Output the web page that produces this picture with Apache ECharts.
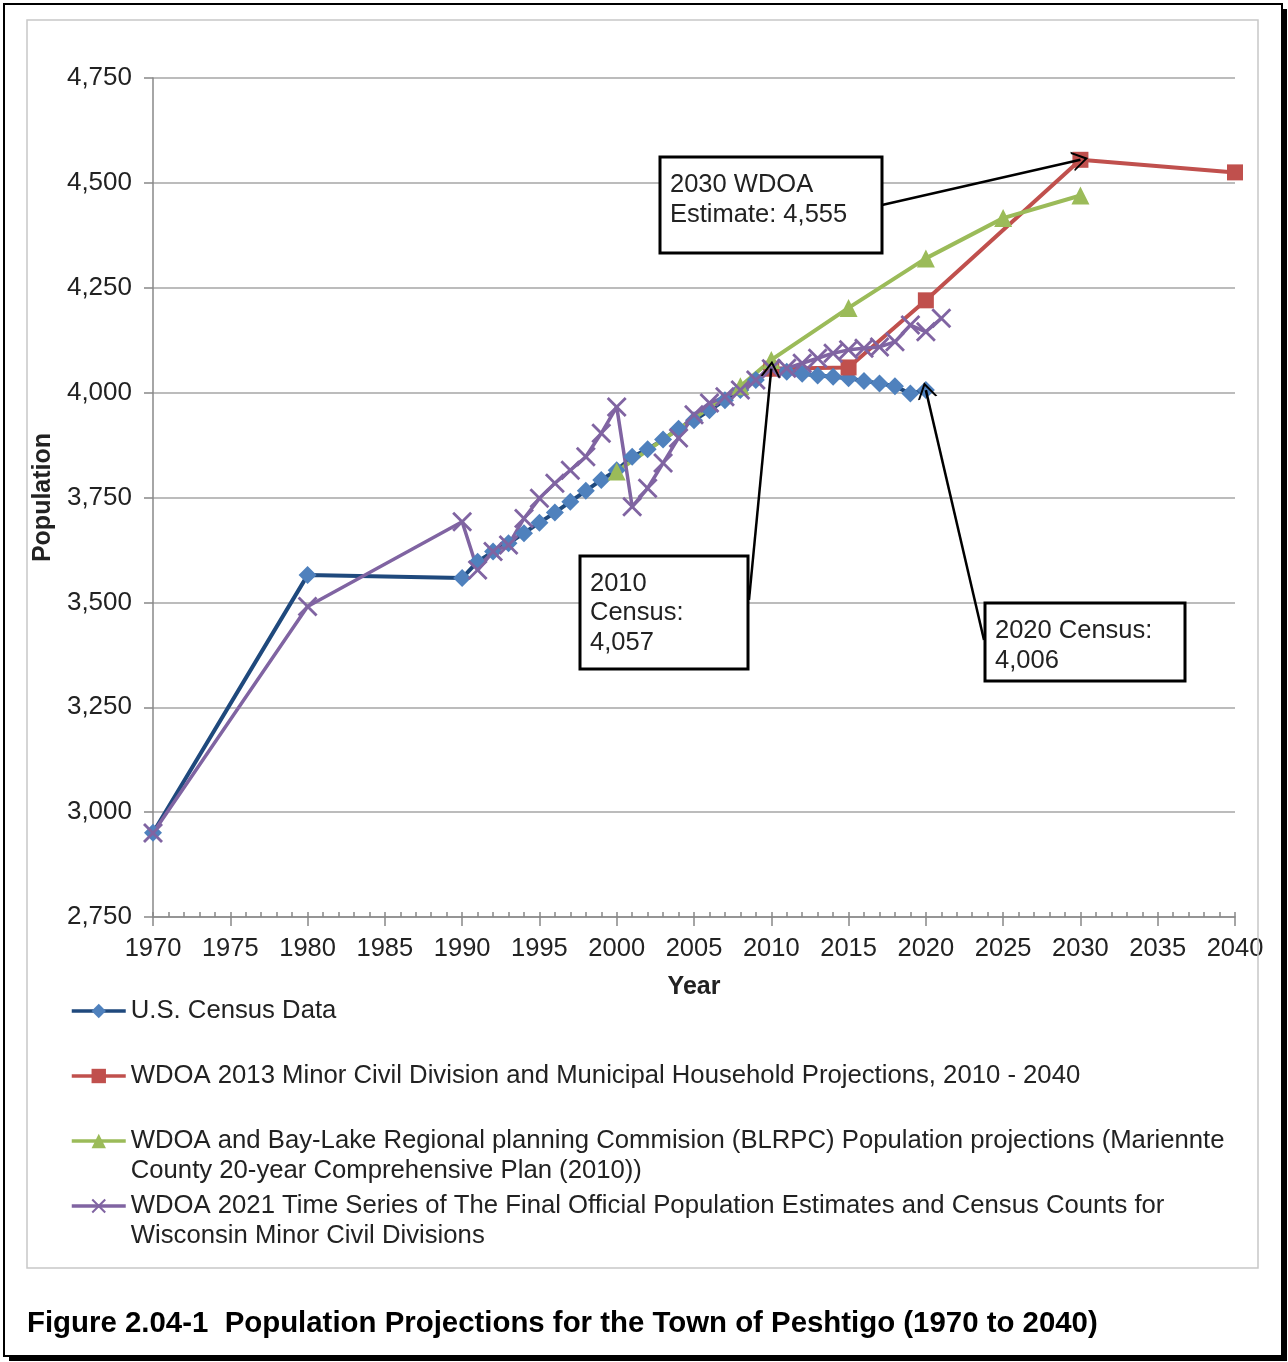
<!DOCTYPE html>
<html>
<head>
    <meta charset="utf-8">
    <title>Population Projections - Town of Peshtigo</title>
    <style>
        html, body { margin: 0; padding: 0; background: #fff; }
        #main { width: 1288px; height: 1362px; }
    </style>
</head>
<body>
    <div id="main"></div>
    <script src="https://cdn.jsdelivr.net/npm/echarts@6/dist/echarts.min.js"></script>
    <script>
    // series names
    var seriesNames = [
        'U.S. Census Data',
        'WDOA 2013 Minor Civil Division and Municipal Household Projections, 2010 - 2040',
        'WDOA and Bay-Lake Regional planning Commision (BLRPC) Population projections (Mariennte County 20-year Comprehensive Plan (2010))',
        'WDOA 2021 Time Series of The Final Official Population Estimates and Census Counts for Wisconsin Minor Civil Divisions'
    ];

    var censusYears = [1970, 1980, 1990, 1991, 1992, 1993, 1994, 1995, 1996, 1997, 1998, 1999,
        2000, 2001, 2002, 2003, 2004, 2005, 2006, 2007, 2008, 2009,
        2010, 2011, 2012, 2013, 2014, 2015, 2016, 2017, 2018, 2019, 2020];
    var censusValues = [2951, 3565, 3558, 3597, 3621, 3641, 3665, 3690, 3714, 3740, 3766, 3792,
        3815, 3847, 3865, 3888, 3914, 3934, 3958, 3982, 4006, 4030,
        4057, 4050, 4045, 4041, 4038, 4034, 4028, 4022, 4015, 3998, 4006];

    var wdoa2013Years = [2010, 2015, 2020, 2030, 2040];
    var wdoa2013Values = [4057, 4060, 4220, 4555, 4525];

    var blrpcYears = [2000, 2008, 2010, 2015, 2020, 2025, 2030];
    var blrpcValues = [3812, 4015, 4078, 4202, 4320, 4416, 4470];

    var wdoa2021Years = [1970, 1980, 1990, 1991, 1992, 1993, 1994, 1995, 1996, 1997, 1998, 1999,
        2000, 2001, 2002, 2003, 2004, 2005, 2006, 2007, 2008, 2009,
        2010, 2011, 2012, 2013, 2014, 2015, 2016, 2017, 2018, 2019, 2020, 2021];
    var wdoa2021Values = [2950, 3490, 3692, 3577, 3621, 3637, 3700, 3748, 3784, 3815, 3847, 3903,
        3966, 3728, 3772, 3832, 3892, 3947, 3975, 3990, 4006, 4030,
        4057, 4058, 4070, 4082, 4094, 4102, 4106, 4109, 4121, 4161, 4145, 4177];

    var yTicks = [2750, 3000, 3250, 3500, 3750, 4000, 4250, 4500, 4750];

    function pairs(xs, ys) {
        return xs.map(function (x, i) { return [x, ys[i]]; });
    }
    function valueAt(xs, ys, year) {
        return ys[xs.indexOf(year)];
    }

    var FONT = 'Liberation Sans';
    var crossSymbol = 'path://M0,1 L1,0 L5,4 L9,0 L10,1 L6,5 L10,9 L9,10 L5,6 L1,10 L0,9 L4,5 Z';
    var arrowHead = 'path://M0,10 L5,0 L10,10 L8.9,10 L5,2.4 L1.1,10 Z';

    var arrowLine = {
        silent: true,
        animation: false,
        symbol: ['none', arrowHead],
        symbolSize: [20, 16],
        label: { show: false },
        emphasis: { disabled: true },
        lineStyle: { color: '#000', width: 2.5, type: 'solid' }
    };

    // one legend per entry so the wrapped entries keep the reference spacing;
    // a leading blank line keeps the icon level with the first text line
    function legendFor(name, top, twoLines) {
        return {
            data: [name],
            left: 70,
            top: top,
            orient: 'vertical',
            padding: 0,
            itemWidth: 54,
            itemHeight: 18,
            selectedMode: false,
            lineStyle: { width: 3.5 },
            formatter: function (n) { return twoLines ? '\n' + n : n; },
            textStyle: {
                fontFamily: FONT,
                fontSize: 25.7,
                color: '#222',
                lineHeight: 30,
                width: 1120,
                overflow: 'break'
            }
        };
    }

    var myChart = echarts.init(document.getElementById('main'));

    var option = {
        animation: false,
        textStyle: { fontFamily: FONT },
        title: {
            text: 'Figure 2.04-1  Population Projections for the Town of Peshtigo (1970 to 2040)',
            left: 27,
            top: 1309,
            padding: 0,
            textStyle: { fontFamily: FONT, fontSize: 29.4, fontWeight: 'bold', color: '#000' }
        },
        legend: [
            legendFor(seriesNames[0], 996, false),
            legendFor(seriesNames[1], 1061, false),
            legendFor(seriesNames[2], 1096, true),
            legendFor(seriesNames[3], 1161, true)
        ],
        grid: { left: 153, right: 53, top: 78, bottom: 445 },
        xAxis: [{
            type: 'value',
            min: 1970,
            max: 2040,
            interval: 5,
            name: 'Year',
            nameLocation: 'middle',
            nameGap: 58,
            nameTextStyle: { fontFamily: FONT, fontSize: 25, fontWeight: 'bold', color: '#222' },
            axisLine: { show: true, lineStyle: { color: '#888', width: 1.5 } },
            axisTick: { show: true, length: 9, lineStyle: { color: '#888', width: 1.5 } },
            axisLabel: {
                fontFamily: FONT, fontSize: 25.5, color: '#222', margin: 19,
                formatter: function (v) { return String(v); }
            },
            splitLine: { show: false }
        }, {
            // yearly minor ticks drawn inside
            type: 'value',
            position: 'bottom',
            min: 1970,
            max: 2040,
            interval: 1,
            axisLine: { show: false },
            axisTick: { show: true, inside: true, length: 5, lineStyle: { color: '#888', width: 1.5 } },
            axisLabel: { show: false },
            splitLine: { show: false }
        }],
        yAxis: {
            type: 'value',
            min: yTicks[0],
            max: yTicks[yTicks.length - 1],
            interval: 250,
            name: 'Population',
            nameLocation: 'middle',
            nameGap: 76,
            nameTextStyle: { fontFamily: FONT, fontSize: 25, fontWeight: 'bold', color: '#222' },
            axisLine: { show: true, lineStyle: { color: '#888', width: 1.5 } },
            axisTick: { show: true, length: 9, lineStyle: { color: '#888', width: 1.5 } },
            axisLabel: {
                fontFamily: FONT, fontSize: 26, color: '#222', margin: 21,
                formatter: function (v) { return v.toLocaleString('en-US'); }
            },
            splitLine: { show: true, lineStyle: { color: '#A6A6A6', width: 1.5 } }
        },
        series: [{
            name: seriesNames[0],
            type: 'line',
            data: pairs(censusYears, censusValues),
            symbol: 'diamond',
            symbolSize: 18,
            lineStyle: { color: '#1F497D', width: 4 },
            itemStyle: { color: '#4F81BD' },
            emphasis: { disabled: true },
            markLine: Object.assign({}, arrowLine, {
                data: [
                    [{ x: 749, y: 600 }, { coord: [2010, valueAt(censusYears, censusValues, 2010)] }],
                    [{ x: 984, y: 640 }, { coord: [2020, valueAt(censusYears, censusValues, 2020)] }]
                ]
            })
        }, {
            name: seriesNames[1],
            type: 'line',
            data: pairs(wdoa2013Years, wdoa2013Values),
            symbol: 'rect',
            symbolSize: 16,
            lineStyle: { color: '#C0504D', width: 4 },
            itemStyle: { color: '#C0504D' },
            emphasis: { disabled: true },
            markLine: Object.assign({}, arrowLine, {
                data: [
                    [{ x: 882, y: 205 }, { coord: [2030, valueAt(wdoa2013Years, wdoa2013Values, 2030)] }]
                ]
            })
        }, {
            name: seriesNames[2],
            type: 'line',
            data: pairs(blrpcYears, blrpcValues),
            symbol: 'triangle',
            symbolSize: 18,
            lineStyle: { color: '#9BBB59', width: 4 },
            itemStyle: { color: '#9BBB59' },
            emphasis: { disabled: true }
        }, {
            name: seriesNames[3],
            type: 'line',
            data: pairs(wdoa2021Years, wdoa2021Values),
            symbol: crossSymbol,
            symbolSize: 20,
            lineStyle: { color: '#8064A2', width: 3.5 },
            itemStyle: { color: '#8064A2' },
            emphasis: { disabled: true }
        }],
        graphic: [
            // outer figure frame with drop shadow
            { type: 'rect', z: 1, shape: { x: 4, y: 4, width: 1278, height: 1352 }, style: { fill: 'none', stroke: '#000', lineWidth: 2 } },
            { type: 'rect', z: 1, shape: { x: 1282, y: 9, width: 5, height: 1352 }, style: { fill: '#000' } },
            { type: 'rect', z: 1, shape: { x: 9, y: 1356, width: 1278, height: 5 }, style: { fill: '#000' } },
            // chart area frame
            { type: 'rect', z: 1, shape: { x: 27, y: 20, width: 1231, height: 1248 }, style: { fill: 'none', stroke: '#C8C8C8', lineWidth: 1.5 } },
            // annotation boxes
            { type: 'rect', z: 100, shape: { x: 660, y: 157, width: 222, height: 96 }, style: { fill: '#fff', stroke: '#000', lineWidth: 3 } },
            { type: 'text', z: 101, x: 670, y: 170, style: { text: '2030 WDOA\nEstimate: 4,555', font: '25.5px "Liberation Sans"', lineHeight: 30, fill: '#222' } },
            { type: 'rect', z: 100, shape: { x: 580, y: 556, width: 168, height: 113 }, style: { fill: '#fff', stroke: '#000', lineWidth: 3 } },
            { type: 'text', z: 101, x: 590, y: 569, style: { text: '2010\nCensus:\n4,057', font: '25.5px "Liberation Sans"', lineHeight: 29.5, fill: '#222' } },
            { type: 'rect', z: 100, shape: { x: 985, y: 603, width: 200, height: 78 }, style: { fill: '#fff', stroke: '#000', lineWidth: 3 } },
            { type: 'text', z: 101, x: 995, y: 616, style: { text: '2020 Census:\n4,006', font: '25.5px "Liberation Sans"', lineHeight: 30, fill: '#222' } }
        ]
    };

    myChart.setOption(option);
    </script>
</body>
</html>
